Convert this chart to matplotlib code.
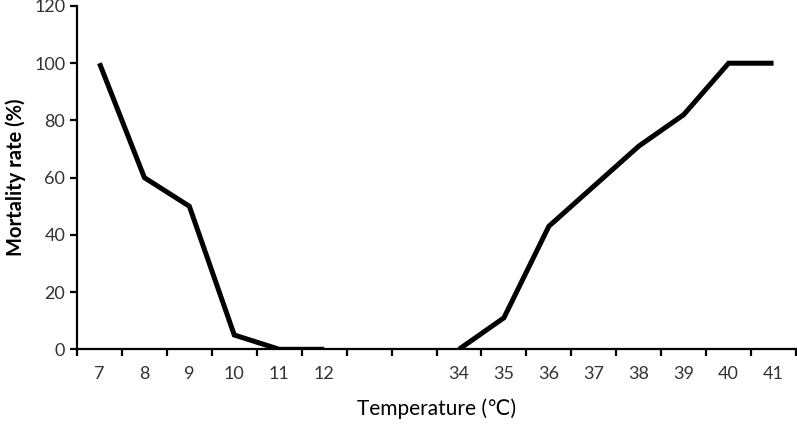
import numpy as np
import matplotlib.pyplot as plt

plt.rcParams['font.family'] = ['Lato', 'DejaVu Sans']

# categories on the x axis, two empty slots between 12 and 34
temps = ['7', '8', '9', '10', '11', '12', '', '', '34', '35', '36', '37', '38', '39', '40', '41']
mortality = [100, 60, 50, 5, 0, 0, np.nan, np.nan, 0, 11, 43, 57, 71, 82, 100, 100]

fig = plt.figure(figsize=(7.97, 4.25), dpi=100)
ax = fig.add_axes([77 / 797, 1 - 349.3 / 425, (796 - 77) / 797, (349.3 - 6) / 425])

x = np.arange(len(temps))
ax.plot(x, mortality, color='black', linewidth=3.6, solid_joinstyle='miter', solid_capstyle='butt')

ax.set_xlim(-0.5, len(temps) - 0.5)
ax.set_ylim(0, 120)
ax.set_yticks(range(0, 121, 20))

# labels at category centres, tick marks between categories
ax.set_xticks(x)
ax.set_xticklabels(temps)
ax.set_xticks(np.arange(-0.5, len(temps)), minor=True)
ax.tick_params(axis='x', which='major', length=0, pad=12, labelsize=13, labelcolor='#333333')
ax.tick_params(axis='x', which='minor', length=5, width=1.6, direction='out')
ax.tick_params(axis='y', length=5, width=1.6, direction='out', labelsize=13, labelcolor='#333333')

for side in ['top', 'right']:
    ax.spines[side].set_visible(False)
for side in ['left', 'bottom']:
    ax.spines[side].set_linewidth(1.6)

ax.set_ylabel('Mortality rate (%)', fontsize=14.5, fontweight='bold', labelpad=6)
ax.set_xlabel('Temperature (℃)', fontsize=15, labelpad=12)

plt.savefig('out.png', dpi=100)
